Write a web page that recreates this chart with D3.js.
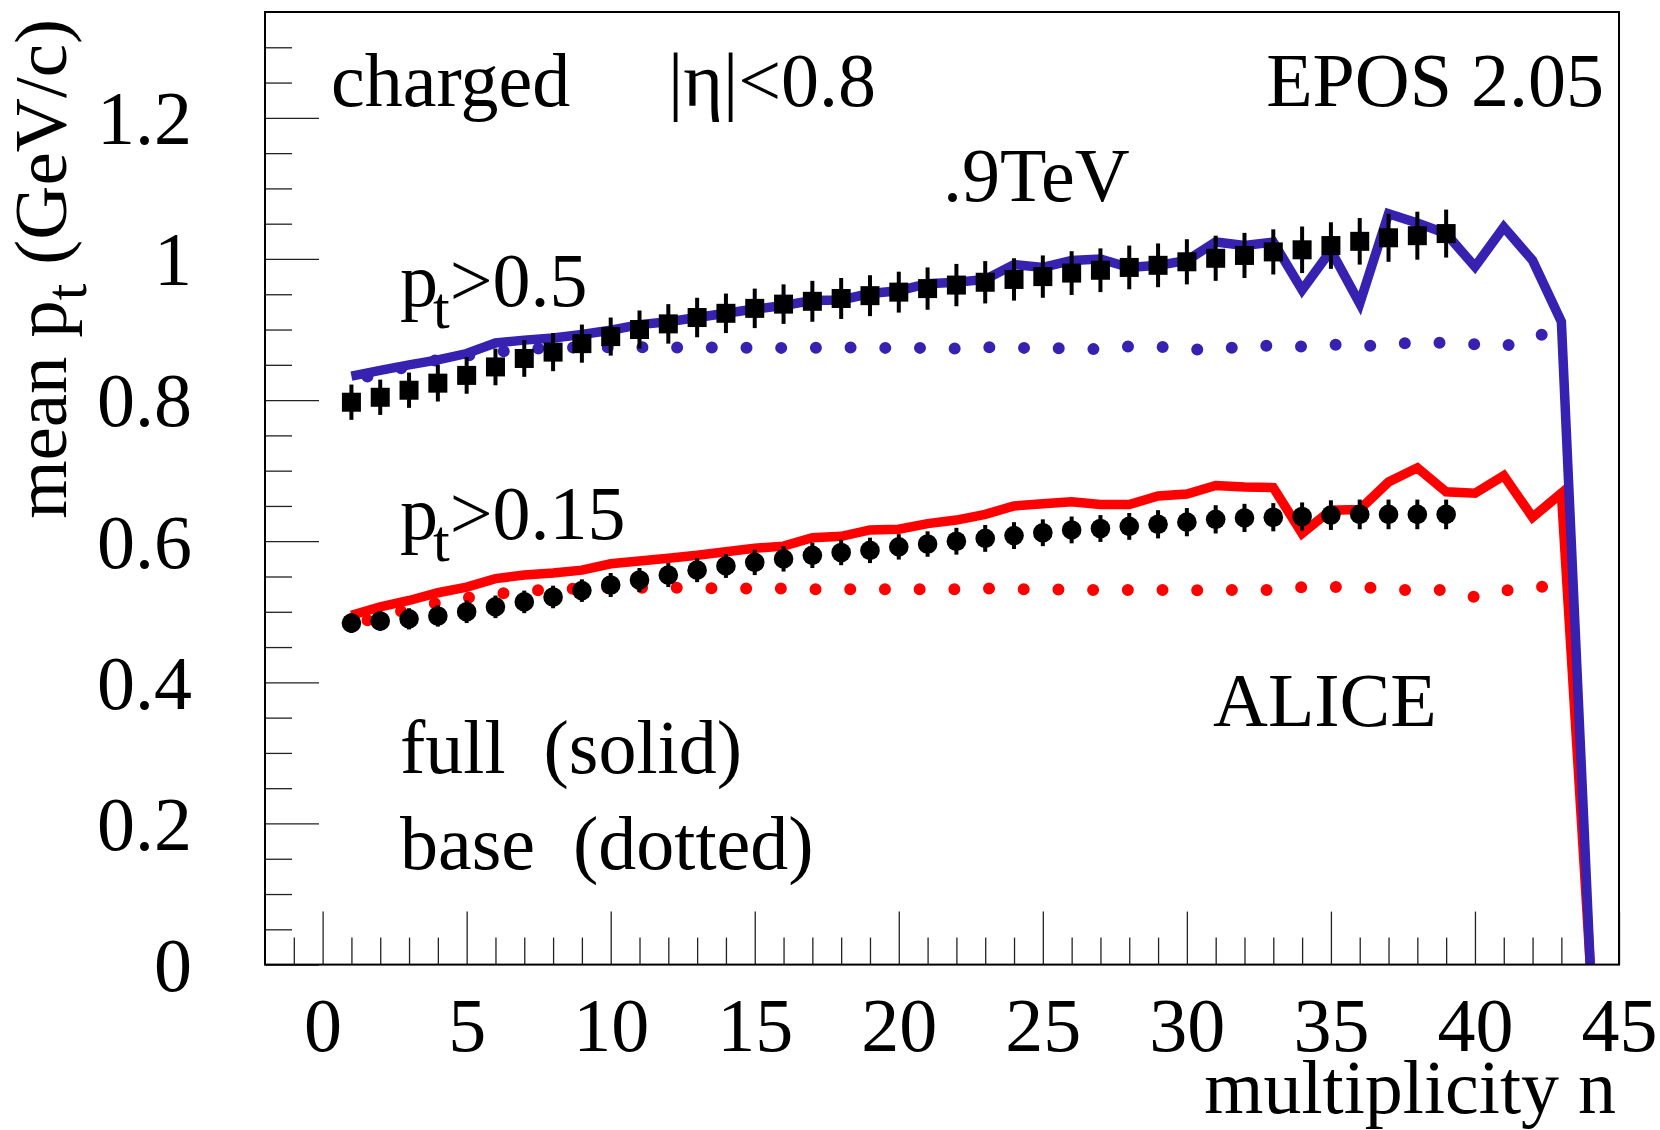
<!DOCTYPE html>
<html><head><meta charset="utf-8">
<script src="https://cdn.jsdelivr.net/npm/d3@7"></script>
<style>
html,body{margin:0;padding:0;background:#fff;}
svg{display:block;}
text{font-family:"Liberation Serif","Times New Roman",serif;fill:#000;}
</style></head><body>
<svg id="chart" width="1660" height="1130"></svg>
<script>
// ---------------- data ----------------
const nFull = [1,2,3,4,5,6,7,8,9,10,11,12,13,14,15,16,17,18,19,20,21,22,23,24,25,26,27,28,29,30,31,32,33,34,35,36,37,38,39,40,41,42,43,44];
const fullPt05 = [0.834,0.842,0.850,0.857,0.866,0.881,0.885,0.888,0.893,0.899,0.907,0.911,0.917,0.923,0.929,0.934,0.941,0.942,0.951,0.955,0.965,0.967,0.971,0.992,0.988,0.998,1.000,0.988,0.991,0.998,1.024,1.019,1.024,0.956,1.012,0.937,1.064,1.051,1.036,0.989,1.045,0.998,0.911,0.0];
const fullPt015 = [0.495,0.507,0.516,0.527,0.535,0.547,0.552,0.555,0.559,0.568,0.572,0.576,0.580,0.585,0.590,0.593,0.605,0.607,0.616,0.617,0.625,0.630,0.638,0.650,0.653,0.656,0.652,0.652,0.664,0.667,0.679,0.677,0.676,0.611,0.644,0.645,0.684,0.704,0.670,0.668,0.693,0.634,0.668,0.0];

const nBase = [1,2,3,4,5,6,7,8,9,10,11,12,13,14,15,16,17,18,19,20,21,22,23,24,25,26,27,28,29,30,31,32,33,34,35,36,37,38,39,40,41,42,43];
const basePt05 = [0.828,0.838,0.848,0.857,0.863,0.868,0.872,0.874,0.875,0.875,0.875,0.875,0.874,0.875,0.874,0.874,0.874,0.875,0.874,0.874,0.874,0.873,0.875,0.874,0.874,0.873,0.872,0.876,0.876,0.872,0.871,0.877,0.877,0.876,0.879,0.876,0.879,0.882,0.881,0.879,0.876,0.888,0.903];
const basePt015 = [0.483,0.492,0.504,0.513,0.520,0.525,0.529,0.532,0.533,0.534,0.534,0.534,0.534,0.533,0.533,0.533,0.532,0.532,0.532,0.532,0.532,0.532,0.533,0.532,0.532,0.531,0.531,0.531,0.531,0.530,0.531,0.531,0.531,0.535,0.535,0.536,0.531,0.531,0.531,0.521,0.530,0.535,0.536];

const nAlice = [1,2,3,4,5,6,7,8,9,10,11,12,13,14,15,16,17,18,19,20,21,22,23,24,25,26,27,28,29,30,31,32,33,34,35,36,37,38,39];
const alicePt05 = [0.797,0.804,0.814,0.824,0.835,0.847,0.859,0.868,0.880,0.890,0.900,0.908,0.917,0.923,0.930,0.936,0.940,0.944,0.948,0.953,0.958,0.963,0.967,0.971,0.975,0.980,0.984,0.988,0.991,0.996,1.001,1.005,1.010,1.013,1.019,1.025,1.030,1.033,1.036];
const alicePt05Err = [0.025,0.025,0.025,0.026,0.026,0.026,0.026,0.027,0.027,0.027,0.027,0.028,0.028,0.028,0.028,0.028,0.029,0.029,0.029,0.029,0.030,0.030,0.030,0.030,0.030,0.031,0.031,0.031,0.031,0.032,0.032,0.032,0.032,0.033,0.033,0.033,0.034,0.034,0.034];
const alicePt015 = [0.484,0.487,0.490,0.494,0.500,0.507,0.514,0.521,0.530,0.538,0.545,0.552,0.559,0.565,0.570,0.575,0.580,0.584,0.587,0.592,0.596,0.600,0.604,0.608,0.612,0.616,0.618,0.621,0.624,0.627,0.631,0.633,0.634,0.635,0.637,0.638,0.638,0.638,0.638];
const alicePt015Err = [0.014,0.014,0.015,0.015,0.016,0.016,0.016,0.016,0.016,0.017,0.017,0.017,0.017,0.017,0.018,0.018,0.018,0.018,0.018,0.018,0.018,0.019,0.019,0.019,0.019,0.019,0.019,0.019,0.020,0.020,0.020,0.020,0.020,0.020,0.021,0.021,0.021,0.021,0.021];

const xMajorTicks = [0,5,10,15,20,25,30,35,40,45];
const yMajorTicks = [0,0.2,0.4,0.6,0.8,1.0,1.2];
const xTitle = "multiplicity n";

// ---------------- drawing ----------------
const svg = d3.select("#chart");
const x = d3.scaleLinear().domain([-2,45]).range([265,1619]);
const y = d3.scaleLinear().domain([0,1.35]).range([964.6,12]);
const FS = 76;
const BLUE = "#3621b0", RED = "#ff0000";

// axes
const xMinor = x.ticks(47).filter(d => d % 5 !== 0 && d > -2 && d < 45);
const yMinor = y.ticks(27).filter(d => Math.abs(d/0.2 - Math.round(d/0.2)) > 1e-6 && d < 1.35);

const gxm = svg.append("g").attr("transform",`translate(0,${y(0)})`)
  .call(d3.axisBottom(x).tickValues(xMinor).tickSize(-27).tickFormat(""));
const gx = svg.append("g").attr("transform",`translate(0,${y(0)})`)
  .call(d3.axisBottom(x).tickValues(xMajorTicks).tickSize(-53).tickFormat(d3.format("d")));
const gym = svg.append("g").attr("transform",`translate(${x(-2)},0)`)
  .call(d3.axisLeft(y).tickValues(yMinor).tickSize(-27).tickFormat(""));
const gy = svg.append("g").attr("transform",`translate(${x(-2)},0)`)
  .call(d3.axisLeft(y).tickValues(yMajorTicks).tickSize(-54).tickFormat(d3.format("~g")));

[gxm,gx,gym,gy].forEach(g => {
  g.select(".domain").remove();
  g.attr("font-family",null).attr("font-size",FS);
  g.selectAll("line").attr("stroke","#222").attr("stroke-width",1.3);
});
gx.selectAll("text").attr("y",86.4).attr("dy",null).attr("fill","#000").style("font-size",FS+"px");
gy.selectAll("text").attr("x",192-265).attr("dy","0.34em").attr("fill","#000").style("font-size",FS+"px");

// lines
const line = d3.line().x(d => x(d[0])).y(d => y(d[1]));
function dotted(ns, vs, color){
  svg.append("path").datum(ns.map((n,i)=>[n,vs[i]]))
    .attr("d",line).attr("fill","none").attr("stroke",color)
    .attr("stroke-width",12).attr("stroke-linecap","round")
    .attr("stroke-dasharray","0 34.7").attr("stroke-dashoffset",18.2);
}
function solid(ns, vs, color){
  svg.append("path").datum(ns.map((n,i)=>[n,vs[i]]))
    .attr("d",line).attr("fill","none").attr("stroke",color)
    .attr("stroke-width",9.5).attr("stroke-linejoin","miter").attr("stroke-miterlimit",10)
    .attr("stroke-linecap","butt");
}
dotted(nBase, basePt015, RED);
dotted(nBase, basePt05, BLUE);
solid(nFull, fullPt015, RED);
solid(nFull, fullPt05, BLUE);

// data markers
function errbars(ns, vs, es){
  svg.append("g").selectAll("line").data(ns).join("line")
    .attr("x1",d=>x(d)).attr("x2",d=>x(d))
    .attr("y1",(d,i)=>y(vs[i]-es[i])).attr("y2",(d,i)=>y(vs[i]+es[i]))
    .attr("stroke","#000").attr("stroke-width",4);
}
errbars(nAlice, alicePt05, alicePt05Err);
errbars(nAlice, alicePt015, alicePt015Err);
svg.append("g").selectAll("rect").data(nAlice).join("rect")
  .attr("x",d=>x(d)-9.5).attr("y",(d,i)=>y(alicePt05[i])-9.5)
  .attr("width",19).attr("height",19).attr("fill","#000");
svg.append("g").selectAll("circle").data(nAlice).join("circle")
  .attr("cx",d=>x(d)).attr("cy",(d,i)=>y(alicePt015[i])).attr("r",9.8).attr("fill","#000");

// frame
svg.append("rect").attr("x",x(-2)).attr("y",y(1.35)).attr("width",x(45)-x(-2)).attr("height",y(0)-y(1.35))
  .attr("fill","none").attr("stroke","#000").attr("stroke-width",2);

// texts
function txt(str, tx, ty, anchor){
  return svg.append("text").attr("x",tx).attr("y",ty).attr("text-anchor",anchor||"start")
    .style("font-size",FS+"px").style("white-space","pre").text(str);
}
txt("charged", 331, 106);
txt("|\u03b7|<0.8", 668, 106);
txt("EPOS 2.05", 1604, 106, "end");
txt(".9TeV", 943, 201);
txt("ALICE", 1213, 726);
txt("full  (solid)", 400, 773);
txt("base  (dotted)", 400, 869);
txt(xTitle, 1616, 1113, "end");

function ptLabel(rest, tx, ty){
  const t = svg.append("text").attr("x",tx).attr("y",ty).style("font-size",FS+"px");
  t.append("tspan").text("p");
  t.append("tspan").attr("dx",-5).attr("dy",22).style("font-size","60px").text("t");
  t.append("tspan").attr("dy",-22).text(rest);
}
ptLabel(">0.5", 400, 306);
ptLabel(">0.15", 400, 539);

// y title
const yt = svg.append("text").attr("transform","translate(66,19) rotate(-90)")
  .attr("text-anchor","end").style("font-size","75px");
yt.append("tspan").text("mean p");
yt.append("tspan").attr("dy",20).style("font-size","60px").text("t");
yt.append("tspan").attr("dy",-20).style("white-space","pre").text(" (GeV/c)");
</script>
</body></html>
